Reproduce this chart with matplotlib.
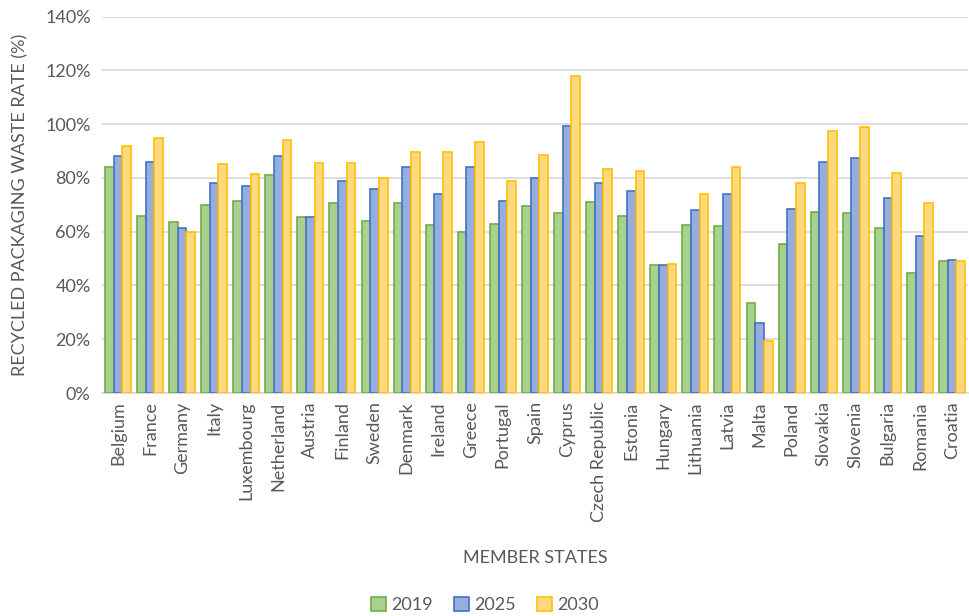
import numpy as np
import matplotlib.pyplot as plt
from matplotlib.ticker import FuncFormatter

# member states and recycled packaging waste rates (%)
countries = ['Belgium', 'France', 'Germany', 'Italy', 'Luxembourg', 'Netherland', 'Austria',
             'Finland', 'Sweden', 'Denmark', 'Ireland', 'Greece', 'Portugal', 'Spain', 'Cyprus',
             'Czech Republic', 'Estonia', 'Hungary', 'Lithuania', 'Latvia', 'Malta', 'Poland',
             'Slovakia', 'Slovenia', 'Bulgaria', 'Romania', 'Croatia']
rate_2019 = [84, 66, 63.5, 70, 71.5, 81, 65.5, 70.5, 64, 70.5, 62.5, 60, 63, 69.5, 67,
             71, 66, 47.5, 62.5, 62, 33.5, 55.5, 67.5, 67, 61.5, 44.5, 49]
rate_2025 = [88, 86, 61.5, 78, 77, 88, 65.5, 79, 76, 84, 74, 84, 71.5, 80, 99.5,
             78, 75, 47.5, 68, 74, 26, 68.5, 86, 87.5, 72.5, 58.5, 49.5]
rate_2030 = [92, 95, 60, 85, 81.5, 94, 85.5, 85.5, 80, 89.5, 89.5, 93.5, 79, 88.5, 118,
             83.5, 82.5, 48, 74, 84, 19.5, 78, 97.5, 99, 82, 70.5, 49]
years = ['2019', '2025', '2030']

plt.rcParams['font.family'] = ['Lato', 'DejaVu Sans']
GREY = '#595959'

fig = plt.figure(figsize=(9.7, 6.16), dpi=100)
ax = fig.add_axes([0.105, 0.362, 0.893, 0.611])

x = np.arange(len(countries))
w = 0.27
fills = ['#a9d18e', '#97acdf', '#ffd982']
edges = ['#70ad47', '#4472c4', '#ffc000']
for i, (vals, lab) in enumerate(zip([rate_2019, rate_2025, rate_2030], years)):
    ax.bar(x + (i - 1) * w, vals, w, color=fills[i], edgecolor=edges[i],
           linewidth=1.2, label=lab, zorder=3)

ax.set_xlim(-0.5, len(countries) - 0.5)
ax.set_ylim(0, 140)
ax.set_yticks(np.arange(0, 141, 20))
ax.yaxis.set_major_formatter(FuncFormatter(lambda v, p: f'{v:.0f}%'))
ax.grid(axis='y', color='#d9d9d9', linewidth=1.3, zorder=0)
for s in ['top', 'right', 'left']:
    ax.spines[s].set_visible(False)
ax.spines['bottom'].set_color('#d9d9d9')
ax.spines['bottom'].set_linewidth(1.3)
ax.tick_params(length=0, colors=GREY, labelsize=13)
ax.tick_params(axis='y', pad=8)
ax.tick_params(axis='x', pad=6)
ax.set_xticks(x)
ax.set_xticklabels(countries, rotation=90)

ax.set_ylabel('RECYCLED PACKAGING WASTE RATE (%)', color=GREY, fontsize=13, labelpad=12)
ax.set_xlabel('MEMBER STATES', color=GREY, fontsize=13, labelpad=20)

leg = fig.legend(loc='lower center', bbox_to_anchor=(0.5, -0.022), ncol=3, frameon=False,
                 fontsize=13, handlelength=0.8, handleheight=0.8, handletextpad=0.3,
                 columnspacing=1.2)
for t in leg.get_texts():
    t.set_color(GREY)

fig.savefig('out.png', dpi=100)
